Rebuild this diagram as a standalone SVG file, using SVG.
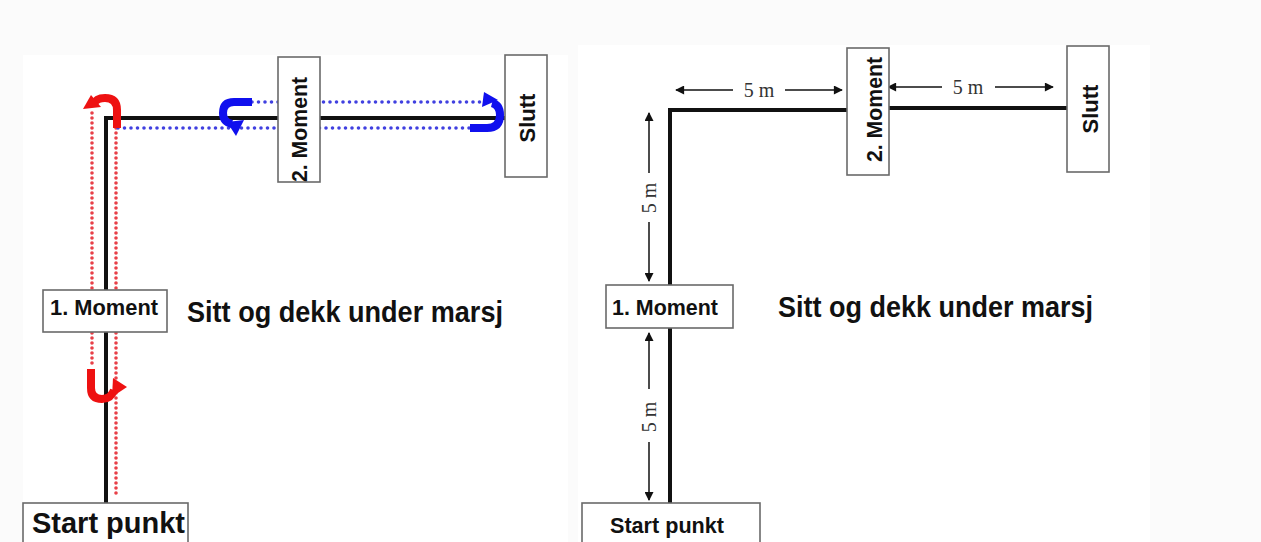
<svg xmlns="http://www.w3.org/2000/svg" width="1261" height="542" viewBox="0 0 1261 542">
<style>
.box{fill:#fff;stroke:#6a6a6a;stroke-width:1.6}
.lbl{font-family:"Liberation Sans",Arial,sans-serif;font-weight:bold;fill:#111}
.path{stroke:#111;stroke-width:4;fill:none}
.red{stroke:#e84048;stroke-width:3.6;stroke-dasharray:0 5;stroke-linecap:round;fill:none}
.blue{stroke:#4040e0;stroke-width:3.6;stroke-dasharray:0 6.5;stroke-linecap:round;fill:none}
.ured{stroke:#ee1111;stroke-width:8;fill:none}
.ublue{stroke:#1010ee;stroke-width:8;fill:none}
.dim{stroke:#111;stroke-width:1.5;fill:none}
.dimt{font-family:"Liberation Serif","Times New Roman",serif;font-size:20px;fill:#333}
</style>
<defs>
<marker id="ah2" viewBox="0 0 10 10" refX="9" refY="5" markerWidth="11" markerHeight="9" markerUnits="userSpaceOnUse" orient="auto-start-reverse">
<path d="M0,0 L10,5 L0,10 z" fill="#111"/>
</marker>
</defs>
<rect x="0" y="0" width="1261" height="542" fill="#fbfbfb"/>
<rect x="23" y="55" width="545" height="487" fill="#fff"/>
<rect x="578" y="45" width="572" height="497" fill="#fff"/>

<g id="connectors">
<!-- left route -->
<path class="path" d="M106,503 L106,118 L282,118"/>
<path class="path" d="M320,118 L505,118"/>
<line class="red" x1="92" y1="113" x2="92" y2="366"/>
<line class="red" x1="116" y1="128" x2="116" y2="494"/>
<line class="blue" x1="252" y1="102" x2="480" y2="102"/>
<line class="blue" x1="118" y1="128" x2="470" y2="128"/>
<path class="ured" d="M117,128 L117,110 Q117,98 105,98 Q96,98 94,104"/>
<polygon points="83,109 91,95 101,107" fill="#ee1111"/>
<path class="ured" d="M91,369 L91,388 Q91,399 102,399 Q111,399 114,390"/>
<polygon points="127,387 113,378 112,397" fill="#ee1111"/>
<path class="ublue" d="M252,102 L234,102 Q223,102 223,113 Q223,122 232,124"/>
<polygon points="236,136 227,122 244,120" fill="#1010ee"/>
<path class="ublue" d="M470,128 L487,128 Q500,128 500,115 Q500,105 492,103"/>
<polygon points="484,92 482,107 498,100" fill="#1010ee"/>
<!-- right route -->
<path class="path" d="M670,503 L670,110 L848,110"/>
<path class="path" d="M888,108 L1067,108"/>
<!-- dimensions -->
<line class="dim" x1="676" y1="90" x2="733" y2="90" marker-start="url(#ah2)"/>
<line class="dim" x1="785" y1="90" x2="842" y2="90" marker-end="url(#ah2)"/>
<text class="dimt" x="759" y="97" text-anchor="middle">5 m</text>
<line class="dim" x1="888" y1="87" x2="942" y2="87" marker-start="url(#ah2)"/>
<line class="dim" x1="995" y1="87" x2="1053" y2="87" marker-end="url(#ah2)"/>
<text class="dimt" x="968" y="94" text-anchor="middle">5 m</text>
<line class="dim" x1="649" y1="113" x2="649" y2="173" marker-start="url(#ah2)"/>
<line class="dim" x1="649" y1="222" x2="649" y2="281" marker-end="url(#ah2)"/>
<text class="dimt" transform="translate(656,198) rotate(-90)" text-anchor="middle">5 m</text>
<line class="dim" x1="649" y1="333" x2="649" y2="389" marker-start="url(#ah2)"/>
<line class="dim" x1="649" y1="442" x2="649" y2="500" marker-end="url(#ah2)"/>
<text class="dimt" transform="translate(656,417) rotate(-90)" text-anchor="middle">5 m</text>
</g>

<g id="left-moment2">
<rect class="box" x="278" y="57" width="42" height="125"/>
<text class="lbl" font-size="22" transform="translate(307,182) rotate(-90)" textLength="105" lengthAdjust="spacingAndGlyphs">2. Moment</text>
</g>
<g id="left-slutt">
<rect class="box" x="505" y="55" width="42" height="122"/>
<text class="lbl" font-size="22" transform="translate(535,118) rotate(-90)" text-anchor="middle">Slutt</text>
</g>
<g id="left-moment1">
<rect class="box" x="43" y="290" width="124" height="42"/>
<text class="lbl" font-size="22" x="50" y="315" textLength="108" lengthAdjust="spacingAndGlyphs">1. Moment</text>
</g>
<g id="left-start">
<rect class="box" x="23" y="503" width="165" height="45"/>
<text class="lbl" font-size="29" x="32" y="533" textLength="153" lengthAdjust="spacingAndGlyphs">Start punkt</text>
</g>
<g id="left-caption">
<text class="lbl" font-size="29" x="187" y="322" textLength="316" lengthAdjust="spacingAndGlyphs">Sitt og dekk under marsj</text>
</g>

<g id="right-moment2">
<rect class="box" x="847" y="48" width="42" height="127"/>
<text class="lbl" font-size="22" transform="translate(882,162) rotate(-90)" textLength="105" lengthAdjust="spacingAndGlyphs">2. Moment</text>
</g>
<g id="right-slutt">
<rect class="box" x="1067" y="46" width="42" height="126"/>
<text class="lbl" font-size="22" transform="translate(1098,109) rotate(-90)" text-anchor="middle">Slutt</text>
</g>
<g id="right-moment1">
<rect class="box" x="606" y="285" width="127" height="43"/>
<text class="lbl" font-size="22" x="612" y="315" textLength="106" lengthAdjust="spacingAndGlyphs">1. Moment</text>
</g>
<g id="right-start">
<rect class="box" x="582" y="503" width="178" height="45"/>
<text class="lbl" font-size="22" x="610" y="533" textLength="114" lengthAdjust="spacingAndGlyphs">Start punkt</text>
</g>
<g id="right-caption">
<text class="lbl" font-size="29" x="778" y="317" textLength="315" lengthAdjust="spacingAndGlyphs">Sitt og dekk under marsj</text>
</g>
</svg>
